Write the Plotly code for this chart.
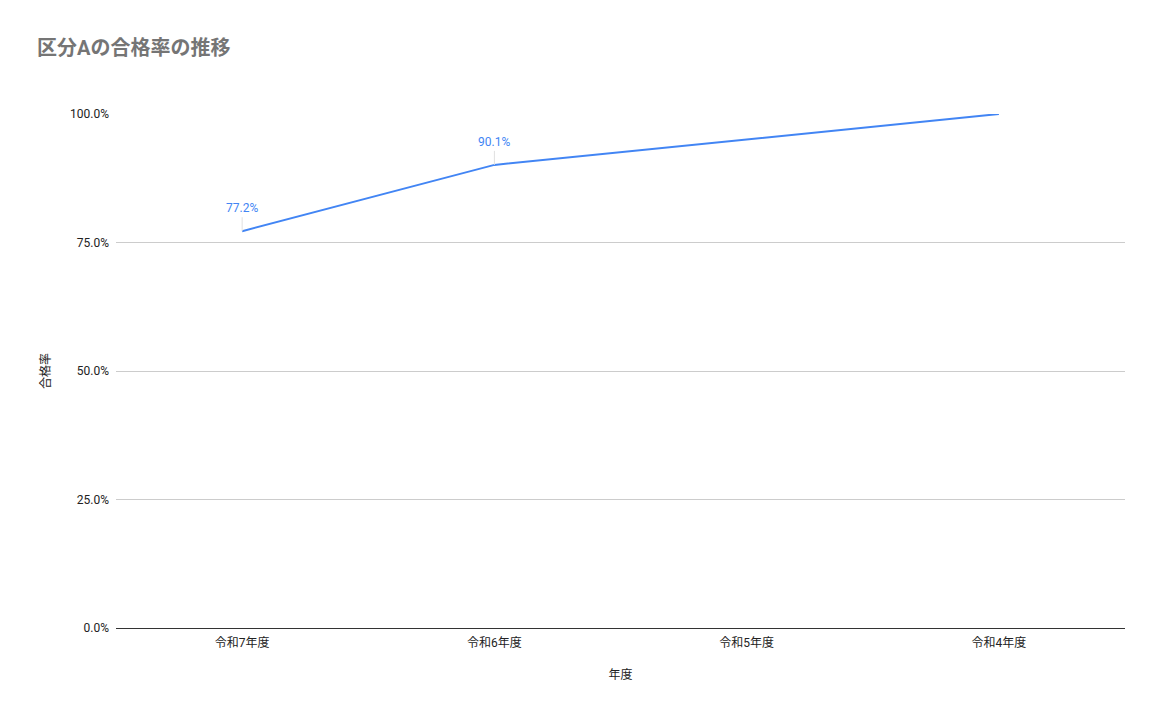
import plotly.graph_objects as go

categories = ["令和7年度", "令和6年度", "令和5年度", "令和4年度"]
pass_rate = [77.2, 90.1, None, 100.0]
label_flags = [True, True, False, False]
y_ticks = [0, 25, 50, 75, 100]

LINE = "#4285f4"
FONT = "Roboto, 'Noto Sans CJK JP', sans-serif"

fig = go.Figure()
fig.add_trace(go.Scatter(
    x=categories, y=pass_rate, mode="lines",
    line=dict(color=LINE, width=2), connectgaps=True,
    hoverinfo="x+y", showlegend=False,
))

for c, v, f in zip(categories, pass_rate, label_flags):
    if f and v is not None:
        fig.add_annotation(
            x=c, y=v, text=f"{v:.1f}%", showarrow=True, arrowhead=0,
            arrowwidth=1, arrowcolor="#e0e0e0", ax=0, ay=-14, standoff=0,
            font=dict(color=LINE, size=12, family=FONT), yanchor="bottom",
        )

fig.update_layout(
    width=1153, height=709,
    margin=dict(l=108, r=36, t=106, b=89),
    paper_bgcolor="white", plot_bgcolor="white",
    font=dict(family=FONT, size=12, color="#222222"),
    title=dict(text="<b>区分Aの合格率の推移</b>", x=0.0252, xref="container", xanchor="left",
               y=0.9436, yref="container", yanchor="middle",
               font=dict(size=20, color="#757575", family=FONT)),
    xaxis=dict(
        type="category", range=[-0.5, 3.5], showgrid=False,
        showline=True, linecolor="#333333", linewidth=1,
        ticks="", ticklabelstandoff=4, tickfont=dict(size=12, color="#222222"),
        title=dict(text="年度", font=dict(size=12, color="#222222"), standoff=21),
    ),
    yaxis=dict(
        range=[0, 100], tickmode="array", tickvals=y_ticks,
        ticktext=[f"{t:.1f}%" for t in y_ticks],
        showgrid=True, gridcolor="#cccccc", gridwidth=1, zeroline=False,
        showline=False, ticks="", ticklabelstandoff=6, tickfont=dict(size=12, color="#222222"),
        title=dict(text="合格率", font=dict(size=12, color="#222222"), standoff=16),
    ),
)

fig.write_html("out.html")
